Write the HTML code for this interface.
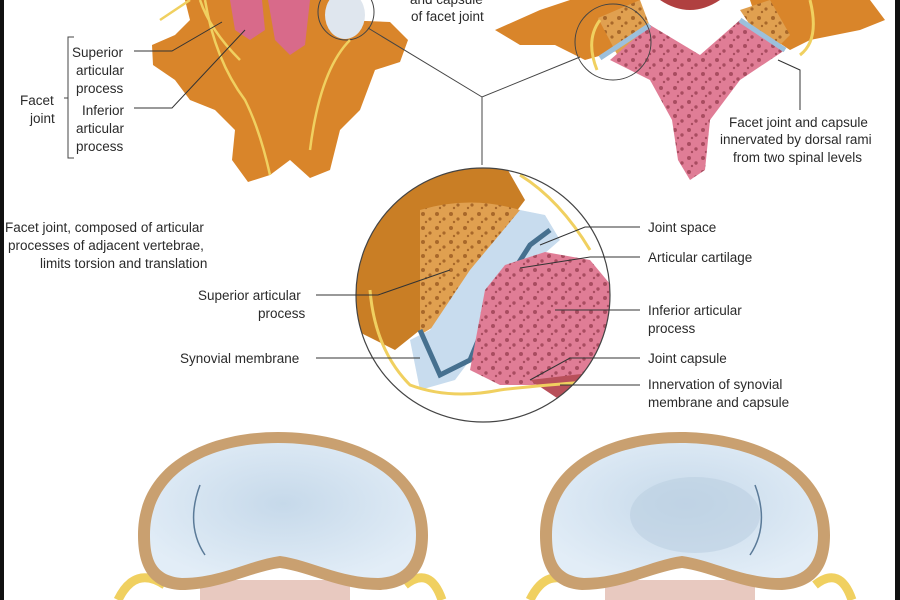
<!DOCTYPE html>
<html><head><meta charset="utf-8"><style>
html,body{margin:0;padding:0;background:#fff}
svg{display:block}
text{font-family:"Liberation Sans",sans-serif;font-size:13.5px;fill:#2a2a2a}
</style></head><body>
<svg width="900" height="600" viewBox="0 0 900 600" xmlns="http://www.w3.org/2000/svg">
<defs>
<pattern id="spongeO" width="14" height="14" patternUnits="userSpaceOnUse"><rect width="14" height="14" fill="#e0a050"/><circle cx="3" cy="4" r="2" fill="#a8682a"/><circle cx="10" cy="9" r="1.6" fill="#a8682a"/><circle cx="6" cy="12" r="1.2" fill="#a8682a"/></pattern>
<pattern id="spongeP" width="14" height="14" patternUnits="userSpaceOnUse"><rect width="14" height="14" fill="#e07d96"/><circle cx="3" cy="4" r="2" fill="#a84c60"/><circle cx="10" cy="9" r="1.7" fill="#a84c60"/><circle cx="6" cy="12" r="1.2" fill="#a84c60"/></pattern>
<radialGradient id="disc" cx="50%" cy="45%" r="60%"><stop offset="0" stop-color="#c6d9ea"/><stop offset="1" stop-color="#e2edf7"/></radialGradient>
<clipPath id="cc"><circle cx="483" cy="295" r="127"/></clipPath>
</defs>
<rect width="900" height="600" fill="#fff"/>
<rect x="0" y="0" width="4" height="600" fill="#111"/>
<rect x="895" y="0" width="5" height="600" fill="#111"/>

<path d="M185 0 L330 0 L340 20 L390 22 L408 40 L400 62 L375 70 L360 110 L340 130 L330 170 L310 178 L290 160 L270 175 L248 182 L232 160 L235 130 L215 110 L190 100 L175 80 L153 65 L152 45 L175 35 L190 20 Z" fill="#d9852a"/>
<path d="M230 0 L262 0 L265 30 L250 40 L235 30 Z" fill="#d86a8a"/>
<path d="M268 0 L310 0 L305 45 L290 55 L275 40 Z" fill="#d86a8a"/>
<ellipse cx="345" cy="15" rx="20" ry="24" fill="#dfe6ee"/>
<circle cx="346" cy="12" r="28" fill="none" stroke="#444" stroke-width="1"/>
<path d="M160 20 L190 0 M205 0 Q215 60 245 100 Q260 130 270 175 M350 40 Q320 70 310 150 M200 0 Q210 30 240 60" stroke="#f0d060" stroke-width="2.5" fill="none"/>
<text x="72" y="57">Superior</text><text x="76" y="75">articular</text><text x="76" y="93">process</text>
<text x="82" y="115">Inferior</text><text x="76" y="133">articular</text><text x="76" y="151">process</text>
<text x="20" y="105">Facet</text><text x="30" y="123">joint</text>
<path d="M74 37 H68 V158 H74 M68 98 H64" stroke="#444" fill="none"/>
<path d="M134 51 H172 L222 22 M134 108 H172 L245 30" stroke="#333" fill="none"/>
<text x="410" y="4">and capsule</text><text x="411" y="21">of facet joint</text>

<path d="M495 30 L540 10 L570 0 L640 0 L620 30 L620 50 L585 60 L555 45 L520 45 Z" fill="#d9852a"/>
<path d="M750 0 L870 0 L885 20 L860 30 L810 40 L790 50 L760 30 Z" fill="#d9852a"/>
<path d="M598 18 L640 0 L655 40 L620 60 Z" fill="url(#spongeO)"/>
<path d="M740 10 L770 0 L790 35 L770 55 Z" fill="url(#spongeO)"/>
<path d="M610 60 L650 25 L700 55 L740 20 L785 50 L740 80 L710 120 L705 170 L690 180 L678 160 L672 120 L650 80 Z" fill="url(#spongeP)"/>
<path d="M600 58 L650 25 M740 20 L785 50" stroke="#9cc0dc" stroke-width="5"/>
<path d="M660 0 Q690 20 720 0" fill="#b04040"/>
<circle cx="613" cy="42" r="38" fill="none" stroke="#444" stroke-width="1"/>
<path d="M597 70 Q585 40 600 20 M800 55 Q820 40 810 0" stroke="#f0d060" stroke-width="3" fill="none"/>
<path d="M778 60 L800 70 V110" stroke="#333" fill="none"/>
<text x="729" y="127">Facet joint and capsule</text>
<text x="720" y="144">innervated by dorsal rami</text>
<text x="733" y="162">from two spinal levels</text>

<path d="M368 28 L482 97 L580 57 M482 97 V165" stroke="#444" fill="none"/>

<g clip-path="url(#cc)">
<rect x="355" y="165" width="260" height="260" fill="#fff"/>
<path d="M355 165 H505 L525 200 L510 220 L470 270 L420 330 L395 350 L355 330 Z" fill="#c97e25"/>
<path d="M420 210 Q470 195 520 210 L505 240 L465 280 L445 320 L420 335 Z" fill="url(#spongeO)"/>
<path d="M410 340 L430 330 L470 270 L520 210 L545 215 L560 240 L520 275 L490 310 L470 360 L455 380 L420 390 Z" fill="#c8dcee"/>
<path d="M420 330 L440 375 L470 360 L495 300 L530 245 L550 230" stroke="#46708f" stroke-width="5" fill="none"/>
<path d="M485 290 L505 265 L545 252 L590 260 L615 290 L615 380 L560 385 L500 385 L470 370 Z" fill="url(#spongeP)"/>
<path d="M530 380 L615 370 L615 425 L590 420 Z" fill="#b8505a"/>
<path d="M370 290 Q375 350 410 385 Q450 400 500 390 Q540 385 615 380 M520 175 Q560 200 590 250" stroke="#f0d060" stroke-width="3" fill="none"/>
</g>
<circle cx="483" cy="295" r="127" fill="none" stroke="#444" stroke-width="1.2"/>
<text x="5" y="232">Facet joint, composed of articular</text>
<text x="8" y="250">processes of adjacent vertebrae,</text>
<text x="40" y="268">limits torsion and translation</text>
<text x="198" y="300">Superior articular</text><text x="258" y="318">process</text>
<text x="180" y="363">Synovial membrane</text>
<text x="648" y="232">Joint space</text>
<text x="648" y="262">Articular cartilage</text>
<text x="648" y="315">Inferior articular</text><text x="648" y="333">process</text>
<text x="648" y="363">Joint capsule</text>
<text x="648" y="389">Innervation of synovial</text><text x="648" y="407">membrane and capsule</text>
<path d="M316 295 H378 L450 270 M316 358 H420 M640 227 H585 L540 245 M640 257 H590 L520 268 M640 310 H555 M640 358 H570 L530 380 M640 385 H560" stroke="#333" fill="none"/>

<path d="M118 600 Q135 565 165 585 M405 585 Q430 565 442 600" stroke="#f0d060" stroke-width="9" fill="none"/>
<path d="M530 600 Q547 565 577 585 M815 585 Q840 565 852 600" stroke="#f0d060" stroke-width="9" fill="none"/>
<rect x="200" y="580" width="150" height="20" fill="#e8c9c0"/>
<rect x="605" y="580" width="150" height="20" fill="#e8c9c0"/>
<path d="M278 432 C352 432 428 465 428 535 C428 570 412 588 380 590 C340 590 310 572 280 568 C250 572 220 590 180 590 C148 588 138 565 138 535 C138 465 205 432 278 432 Z" fill="#c9a070"/>
<path d="M278 443 C348 443 416 472 416 535 C416 562 404 577 378 578 C340 578 310 560 280 556 C250 560 220 578 182 578 C156 576 150 560 150 535 C150 472 210 443 278 443 Z" fill="url(#disc)"/>
<path d="M680 432 C754 432 830 465 830 535 C830 570 814 588 782 590 C742 590 712 572 682 568 C652 572 622 590 582 590 C550 588 540 565 540 535 C540 465 607 432 680 432 Z" fill="#c9a070"/>
<path d="M680 443 C750 443 818 472 818 535 C818 562 806 577 780 578 C742 578 712 560 682 556 C652 560 622 578 584 578 C558 576 552 560 552 535 C552 472 612 443 680 443 Z" fill="url(#disc)"/>
<ellipse cx="695" cy="515" rx="65" ry="38" fill="#b9cde0" opacity="0.55"/>
<path d="M200 485 Q185 525 205 555 M755 485 Q770 525 750 555" stroke="#5a7a98" stroke-width="1.5" fill="none"/>
</svg>
</body></html>
